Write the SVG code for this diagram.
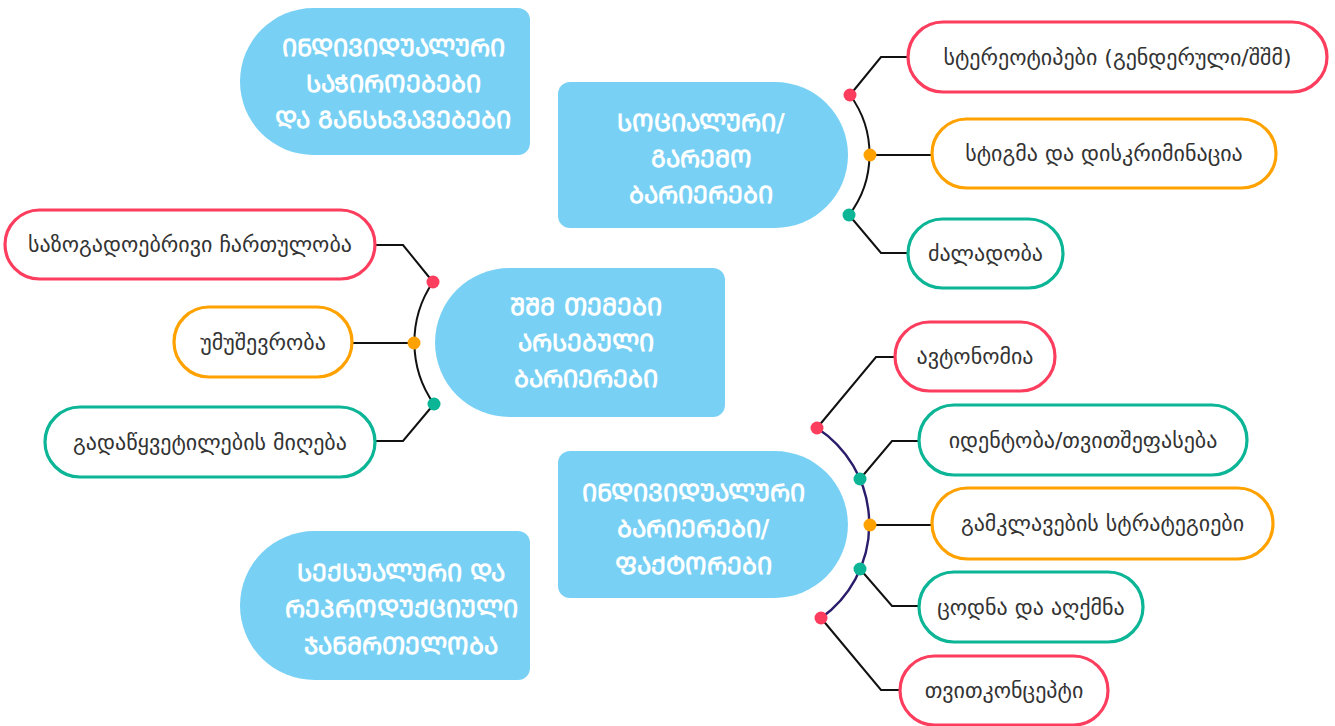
<svg xmlns="http://www.w3.org/2000/svg" width="1335" height="726" viewBox="0 0 1335 726">
<style>
.hub{fill:#78d1f5}
.hubt{font-family:"DejaVu Sans","Noto Sans",sans-serif;font-size:24px;font-weight:600;fill:#ffffff;text-anchor:middle}
.pill{fill:#ffffff;stroke-width:3.2}
.red{stroke:#fc3d5d}.org{stroke:#ffa200}.grn{stroke:#0bb596}
.lt{font-family:"DejaVu Sans","Noto Sans",sans-serif;font-size:22px;fill:#333333;text-anchor:middle;dominant-baseline:central}
.ln{fill:none;stroke:#111111;stroke-width:2}
.dr{fill:#fc3d5d}.do{fill:#ffa200}.dg{fill:#0bb596}
</style>
<rect width="1335" height="726" fill="#ffffff"/>
<g id="connectors">
<path class="ln" d="M850,95 A100,100 0 0 1 849,215"/>
<path class="ln" d="M850,95 L881,57 H908 M870,155 H932 M849,215 L881,253 H908"/>
<path class="ln" d="M433,282 A107,107 0 0 0 434,404"/>
<path class="ln" d="M433,282 L403,245 H375 M414,343 H352 M434,404 L403,441 H375"/>
<path fill="none" stroke="#2b1d6b" stroke-width="2.4" d="M817,428 A115,115 0 0 1 821,618"/>
<path class="ln" d="M817,428 L876,357 H895 M860,479 L892,441 H919 M870,525 H932 M860,569 L892,606 H919 M821,618 L881,690 H900"/>
<circle class="dr" cx="850" cy="95" r="6.5"/><circle class="do" cx="870" cy="155" r="6.5"/><circle class="dg" cx="849" cy="215" r="6.5"/>
<circle class="dr" cx="433" cy="282" r="6.5"/><circle class="do" cx="414" cy="343" r="6.5"/><circle class="dg" cx="434" cy="404" r="6.5"/>
<circle class="dr" cx="817" cy="428" r="6.5"/><circle class="dg" cx="860" cy="479" r="6.5"/><circle class="do" cx="870" cy="525" r="6.5"/><circle class="dg" cx="860" cy="569" r="6.5"/><circle class="dr" cx="821" cy="618" r="6.5"/>
</g>
<g id="hub-needs">
<path class="hub" d="M313.5,8 H518 A12,12 0 0 1 530,20 V143 A12,12 0 0 1 518,155 H313.5 A73.5,73.5 0 0 1 313.5,8 Z"/>
<text class="hubt"><tspan x="393" y="56">ᲘᲜᲓᲘᲕᲘᲓᲣᲐᲚᲣᲠᲘ</tspan><tspan x="393" y="92">ᲡᲐᲭᲘᲠᲝᲔᲑᲔᲑᲘ</tspan><tspan x="393" y="128">ᲓᲐ ᲒᲐᲜᲡᲮᲕᲐᲕᲔᲑᲔᲑᲘ</tspan></text>
</g>
<g id="hub-social">
<path class="hub" d="M570,82 H775 A73,73 0 0 1 775,228 H570 A12,12 0 0 1 558,216 V94 A12,12 0 0 1 570,82 Z"/>
<text class="hubt"><tspan x="701" y="131">ᲡᲝᲪᲘᲐᲚᲣᲠᲘ/</tspan><tspan x="701" y="167">ᲒᲐᲠᲔᲛᲝ</tspan><tspan x="701" y="203">ᲑᲐᲠᲘᲔᲠᲔᲑᲘ</tspan></text>
</g>
<g id="hub-center">
<path class="hub" d="M509.5,268 H713 A12,12 0 0 1 725,280 V405 A12,12 0 0 1 713,417 H509.5 A74.5,74.5 0 0 1 509.5,268 Z"/>
<text class="hubt"><tspan x="586" y="315">ᲨᲨᲛ ᲗᲔᲛᲔᲑᲘ</tspan><tspan x="586" y="351">ᲐᲠᲡᲔᲑᲣᲚᲘ</tspan><tspan x="586" y="387">ᲑᲐᲠᲘᲔᲠᲔᲑᲘ</tspan></text>
</g>
<g id="hub-individual">
<path class="hub" d="M570,451 H774.5 A73.5,73.5 0 0 1 774.5,598 H570 A12,12 0 0 1 558,586 V463 A12,12 0 0 1 570,451 Z"/>
<text class="hubt"><tspan x="693" y="501">ᲘᲜᲓᲘᲕᲘᲓᲣᲐᲚᲣᲠᲘ</tspan><tspan x="693" y="537">ᲑᲐᲠᲘᲔᲠᲔᲑᲘ/</tspan><tspan x="693" y="574">ᲤᲐᲥᲢᲝᲠᲔᲑᲘ</tspan></text>
</g>
<g id="hub-sexual">
<path class="hub" d="M314.5,531 H518 A12,12 0 0 1 530,543 V668 A12,12 0 0 1 518,680 H314.5 A74.5,74.5 0 0 1 314.5,531 Z"/>
<text class="hubt"><tspan x="401" y="581">ᲡᲔᲥᲡᲣᲐᲚᲣᲠᲘ ᲓᲐ</tspan><tspan x="401" y="617">ᲠᲔᲞᲠᲝᲓᲣᲥᲪᲘᲣᲚᲘ</tspan><tspan x="401" y="654">ᲯᲐᲜᲛᲠᲗᲔᲚᲝᲑᲐ</tspan></text>
</g>
<g id="leaf-stereotypes"><rect class="pill red" x="908" y="22" width="419" height="70" rx="35"/><text class="lt" x="1117.5" y="57">სტერეოტიპები (გენდერული/შშმ)</text></g>
<g id="leaf-stigma"><rect class="pill org" x="932" y="119" width="344" height="69" rx="34.5"/><text class="lt" x="1104" y="153.5">სტიგმა და დისკრიმინაცია</text></g>
<g id="leaf-violence"><rect class="pill grn" x="908" y="219" width="155" height="69" rx="34.5"/><text class="lt" x="985.5" y="253.5">ძალადობა</text></g>
<g id="leaf-engagement"><rect class="pill red" x="5" y="210" width="370" height="69" rx="34.5"/><text class="lt" x="190" y="244.5">საზოგადოებრივი ჩართულობა</text></g>
<g id="leaf-unemployment"><rect class="pill org" x="174" y="307" width="178" height="70" rx="35"/><text class="lt" x="263" y="342">უმუშევრობა</text></g>
<g id="leaf-decision"><rect class="pill grn" x="45" y="407" width="330" height="70" rx="35"/><text class="lt" x="210" y="442">გადაწყვეტილების მიღება</text></g>
<g id="leaf-autonomy"><rect class="pill red" x="895" y="322" width="160" height="69" rx="34.5"/><text class="lt" x="975" y="356.5">ავტონომია</text></g>
<g id="leaf-identity"><rect class="pill grn" x="919" y="405" width="328" height="70" rx="35"/><text class="lt" x="1083" y="440">იდენტობა/თვითშეფასება</text></g>
<g id="leaf-coping"><rect class="pill org" x="932" y="488" width="341" height="71" rx="35.5"/><text class="lt" x="1102.5" y="523.5">გამკლავების სტრატეგიები</text></g>
<g id="leaf-knowledge"><rect class="pill grn" x="919" y="572" width="224" height="70" rx="35"/><text class="lt" x="1031" y="607">ცოდნა და აღქმნა</text></g>
<g id="leaf-selfconcept"><rect class="pill red" x="900" y="656" width="208" height="69" rx="34.5"/><text class="lt" x="1004" y="690.5">თვითკონცეპტი</text></g>
</svg>
